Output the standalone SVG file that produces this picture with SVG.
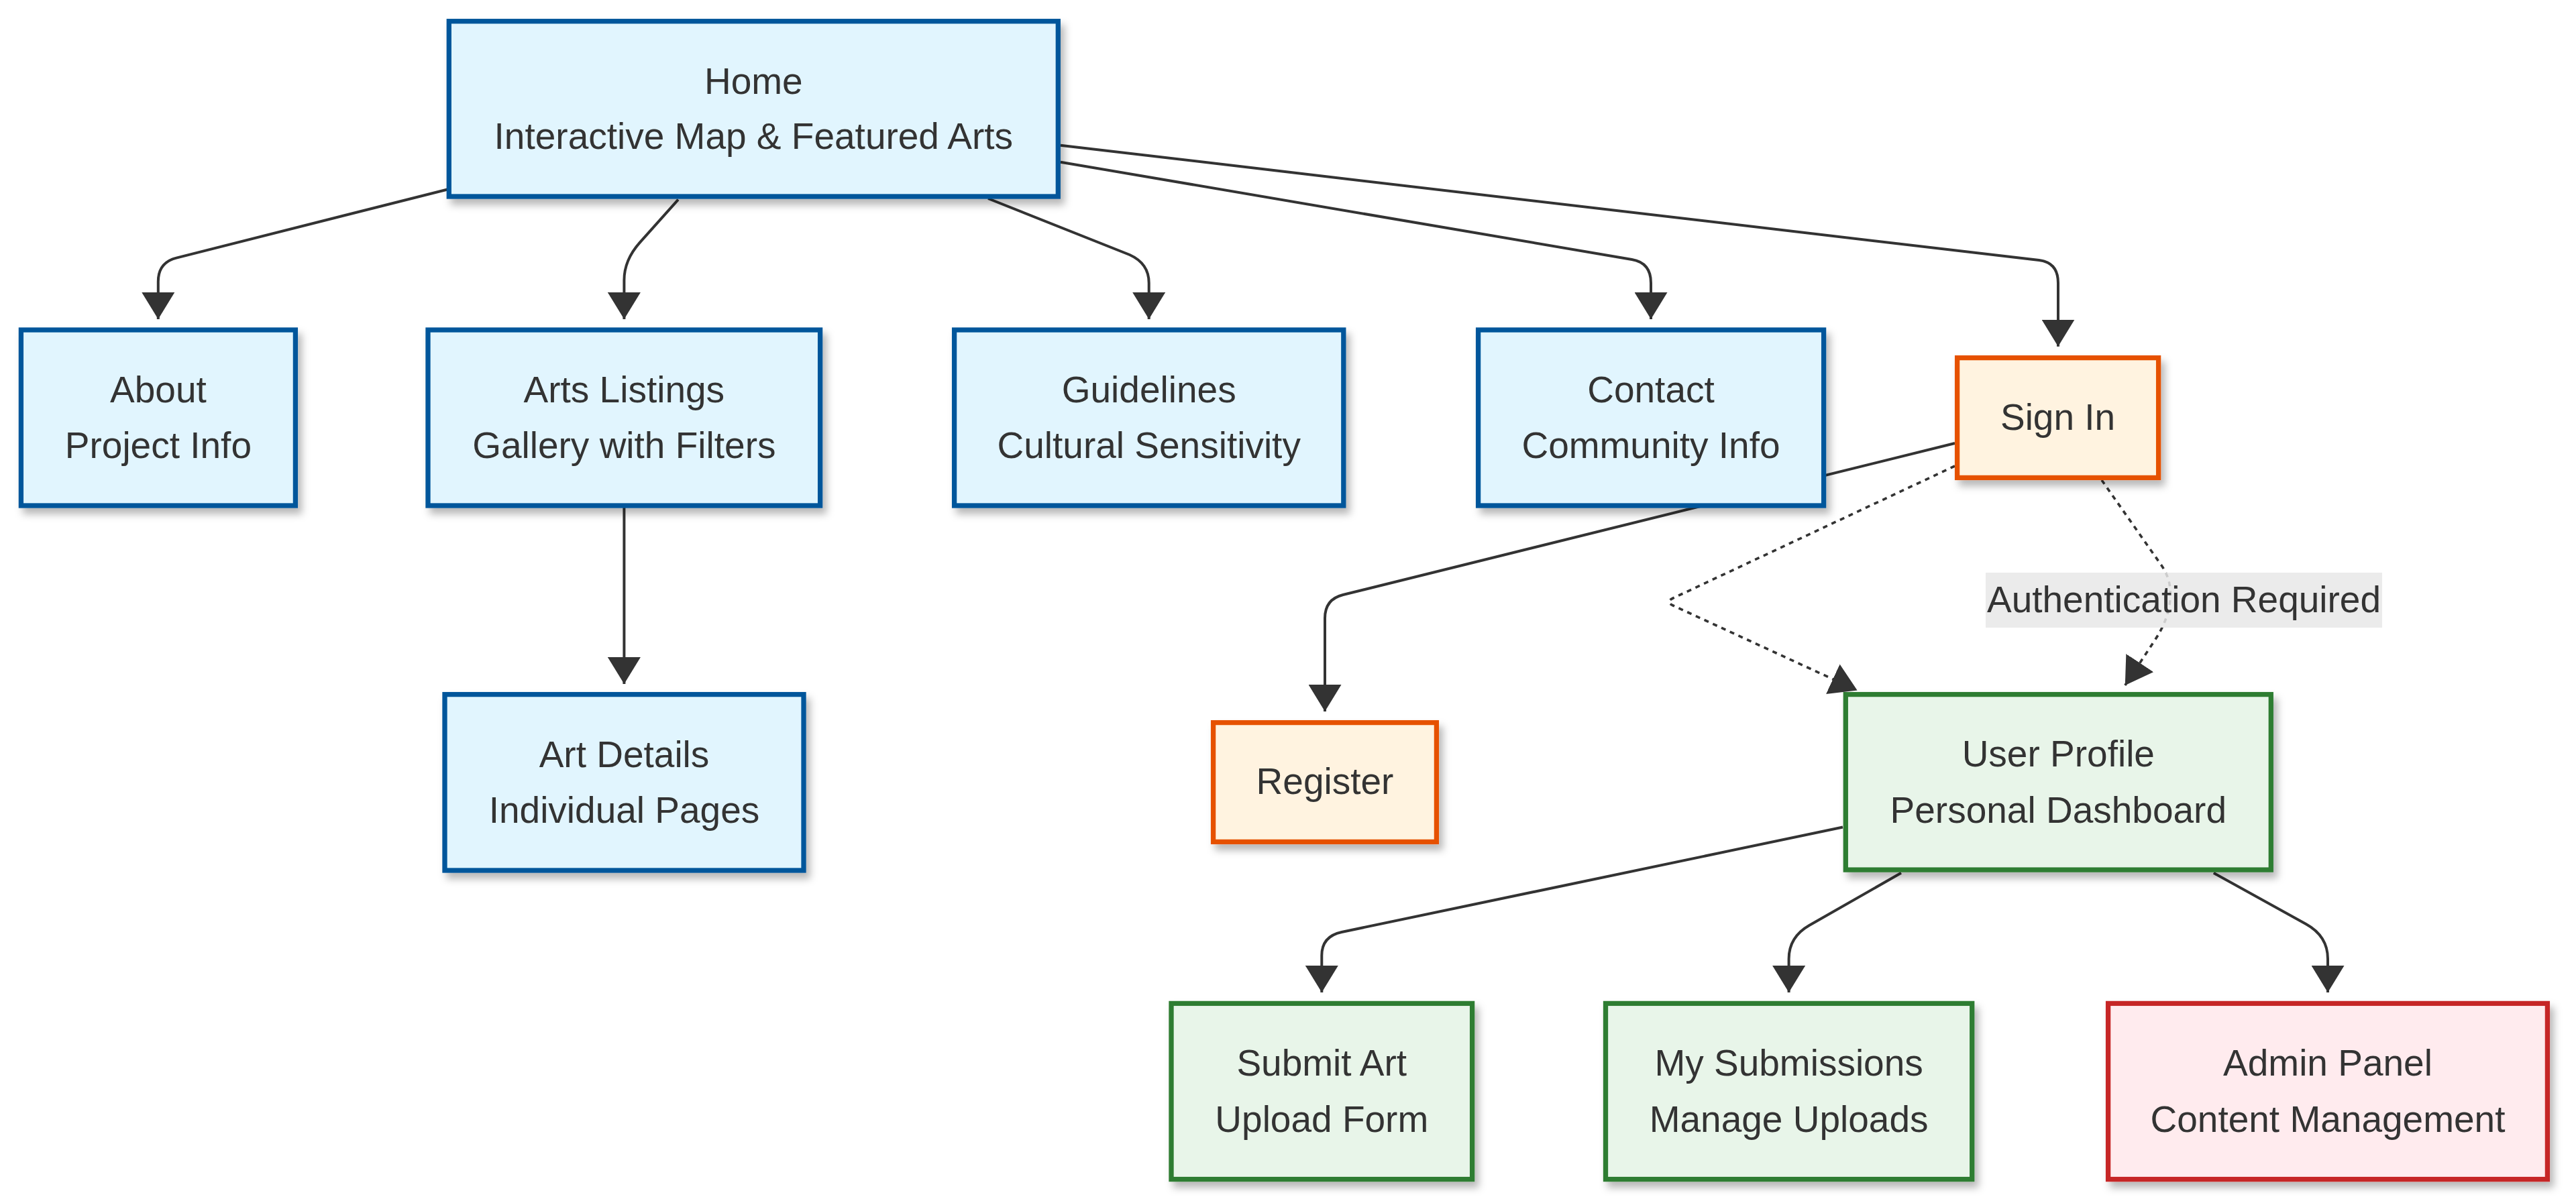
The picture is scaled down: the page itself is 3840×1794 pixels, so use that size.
<svg xmlns="http://www.w3.org/2000/svg" width="3840" height="1794" viewBox="0 0 3840 1794">
<defs>
<style>
.node rect{stroke-width:7.3}
.blue rect{fill:#e1f5fe;stroke:#01579b}
.orange rect{fill:#fff3e0;stroke:#e65100}
.green rect{fill:#e8f5e9;stroke:#2e7d32}
.red rect{fill:#ffebee;stroke:#c62828}
text{font-family:"Liberation Sans",Arial,Helvetica,sans-serif;font-size:55px;fill:#333333;text-anchor:middle}
.edge{fill:none;stroke:#333333;stroke-width:4}
.dotted{stroke-width:3.6;stroke-dasharray:7 7}
</style>
<filter id="shadow" x="-10%" y="-10%" width="130%" height="140%">
<feDropShadow dx="6" dy="9" stdDeviation="6" flood-color="#000000" flood-opacity="0.28"/>
</filter>
<marker id="arrow" viewBox="0 0 40 49" refX="40" refY="24.5" markerWidth="40" markerHeight="49" markerUnits="userSpaceOnUse" orient="auto">
<path d="M0,0 L40,24.5 L0,49 Z" fill="#333333"/>
</marker>
</defs>
<rect width="3840" height="1794" fill="#ffffff"/>
<g id="connectors">
<path class="edge" marker-end="url(#arrow)" d="M669,282 L263,384.6 Q235.8,391.5 235.8,420 L235.8,476"/>
<path class="edge" marker-end="url(#arrow)" d="M1011,297.7 L953.8,361.7 Q930.4,388 930.4,418 L930.4,476"/>
<path class="edge" marker-end="url(#arrow)" d="M1473,296 L1684,380 Q1712.7,393 1712.7,422 L1712.7,476"/>
<path class="edge" marker-end="url(#arrow)" d="M1581,241.7 L2432.6,387 Q2461,391.8 2461,422 L2461,476"/>
<path class="edge" marker-end="url(#arrow)" d="M1581,216.7 L3039.6,388 Q3068,391.3 3068,422 L3068,516.7"/>
<path class="edge" marker-end="url(#arrow)" d="M930.4,757 L930.4,1020"/>
<path class="edge" marker-end="url(#arrow)" d="M2914,661 L2002,887 Q1975,893.7 1975,922 L1975,1061"/>
<path class="edge dotted" marker-end="url(#arrow)" d="M2914,695 L2494,892 Q2482,897.5 2494,903 L2768.6,1029.5"/>
<path class="edge dotted" marker-end="url(#arrow)" d="M3133,716 L3222,843 Q3238,866 3235,895 Q3232,925 3212,955 L3167.8,1022"/>
<path class="edge" marker-end="url(#arrow)" d="M2747,1233.5 L2000,1390 Q1970.3,1396.3 1970.3,1425 L1970.3,1480"/>
<path class="edge" marker-end="url(#arrow)" d="M2834,1301.8 L2697,1380 Q2666.6,1397.4 2666.6,1430 L2666.6,1480"/>
<path class="edge" marker-end="url(#arrow)" d="M3299.8,1301.8 L3437.5,1378 Q3470,1396 3470,1430 L3470,1480"/>
<g id="label-auth">
<rect x="2960" y="854" width="591" height="82" fill="#e8e8e8" fill-opacity="0.85"/>
<text x="3255.5" y="913">Authentication Required</text>
</g>
</g>
<g id="home" class="node blue"><rect x="669.3" y="31.7" width="908" height="261.3" filter="url(#shadow)"/><text x="1123.3" y="139.7">Home</text><text x="1123.3" y="222">Interactive Map &amp; Featured Arts</text></g>
<g id="about" class="node blue"><rect x="31.4" y="492" width="409" height="262" filter="url(#shadow)"/><text x="235.9" y="600">About</text><text x="235.9" y="683">Project Info</text></g>
<g id="arts" class="node blue"><rect x="638" y="492" width="584.6" height="262" filter="url(#shadow)"/><text x="930.3" y="600">Arts Listings</text><text x="930.3" y="683">Gallery with Filters</text></g>
<g id="guidelines" class="node blue"><rect x="1422.6" y="492" width="580.2" height="262" filter="url(#shadow)"/><text x="1712.7" y="600">Guidelines</text><text x="1712.7" y="683">Cultural Sensitivity</text></g>
<g id="contact" class="node blue"><rect x="2203.6" y="492" width="515" height="262" filter="url(#shadow)"/><text x="2461" y="600">Contact</text><text x="2461" y="683">Community Info</text></g>
<g id="signin" class="node orange"><rect x="2917.6" y="533.6" width="300" height="178.8" filter="url(#shadow)"/><text x="3067.6" y="641">Sign In</text></g>
<g id="artdetails" class="node blue"><rect x="663" y="1035.6" width="535" height="262.4" filter="url(#shadow)"/><text x="930.5" y="1143.6">Art Details</text><text x="930.5" y="1227.4">Individual Pages</text></g>
<g id="register" class="node orange"><rect x="1808.6" y="1077.6" width="332.8" height="177.8" filter="url(#shadow)"/><text x="1975" y="1183.5">Register</text></g>
<g id="profile" class="node green"><rect x="2751.3" y="1035.6" width="634" height="261.5" filter="url(#shadow)"/><text x="3068.3" y="1143.3">User Profile</text><text x="3068.3" y="1227">Personal Dashboard</text></g>
<g id="submit" class="node green"><rect x="1746" y="1496.4" width="448.6" height="262.2" filter="url(#shadow)"/><text x="1970.3" y="1604.3">Submit Art</text><text x="1970.3" y="1688.2">Upload Form</text></g>
<g id="mysubs" class="node green"><rect x="2393.5" y="1496.4" width="546.2" height="262.2" filter="url(#shadow)"/><text x="2666.6" y="1604.3">My Submissions</text><text x="2666.6" y="1688.2">Manage Uploads</text></g>
<g id="admin" class="node red"><rect x="3142.6" y="1496.4" width="654.8" height="262.2" filter="url(#shadow)"/><text x="3470" y="1604.3">Admin Panel</text><text x="3470" y="1688.2">Content Management</text></g>
</svg>
